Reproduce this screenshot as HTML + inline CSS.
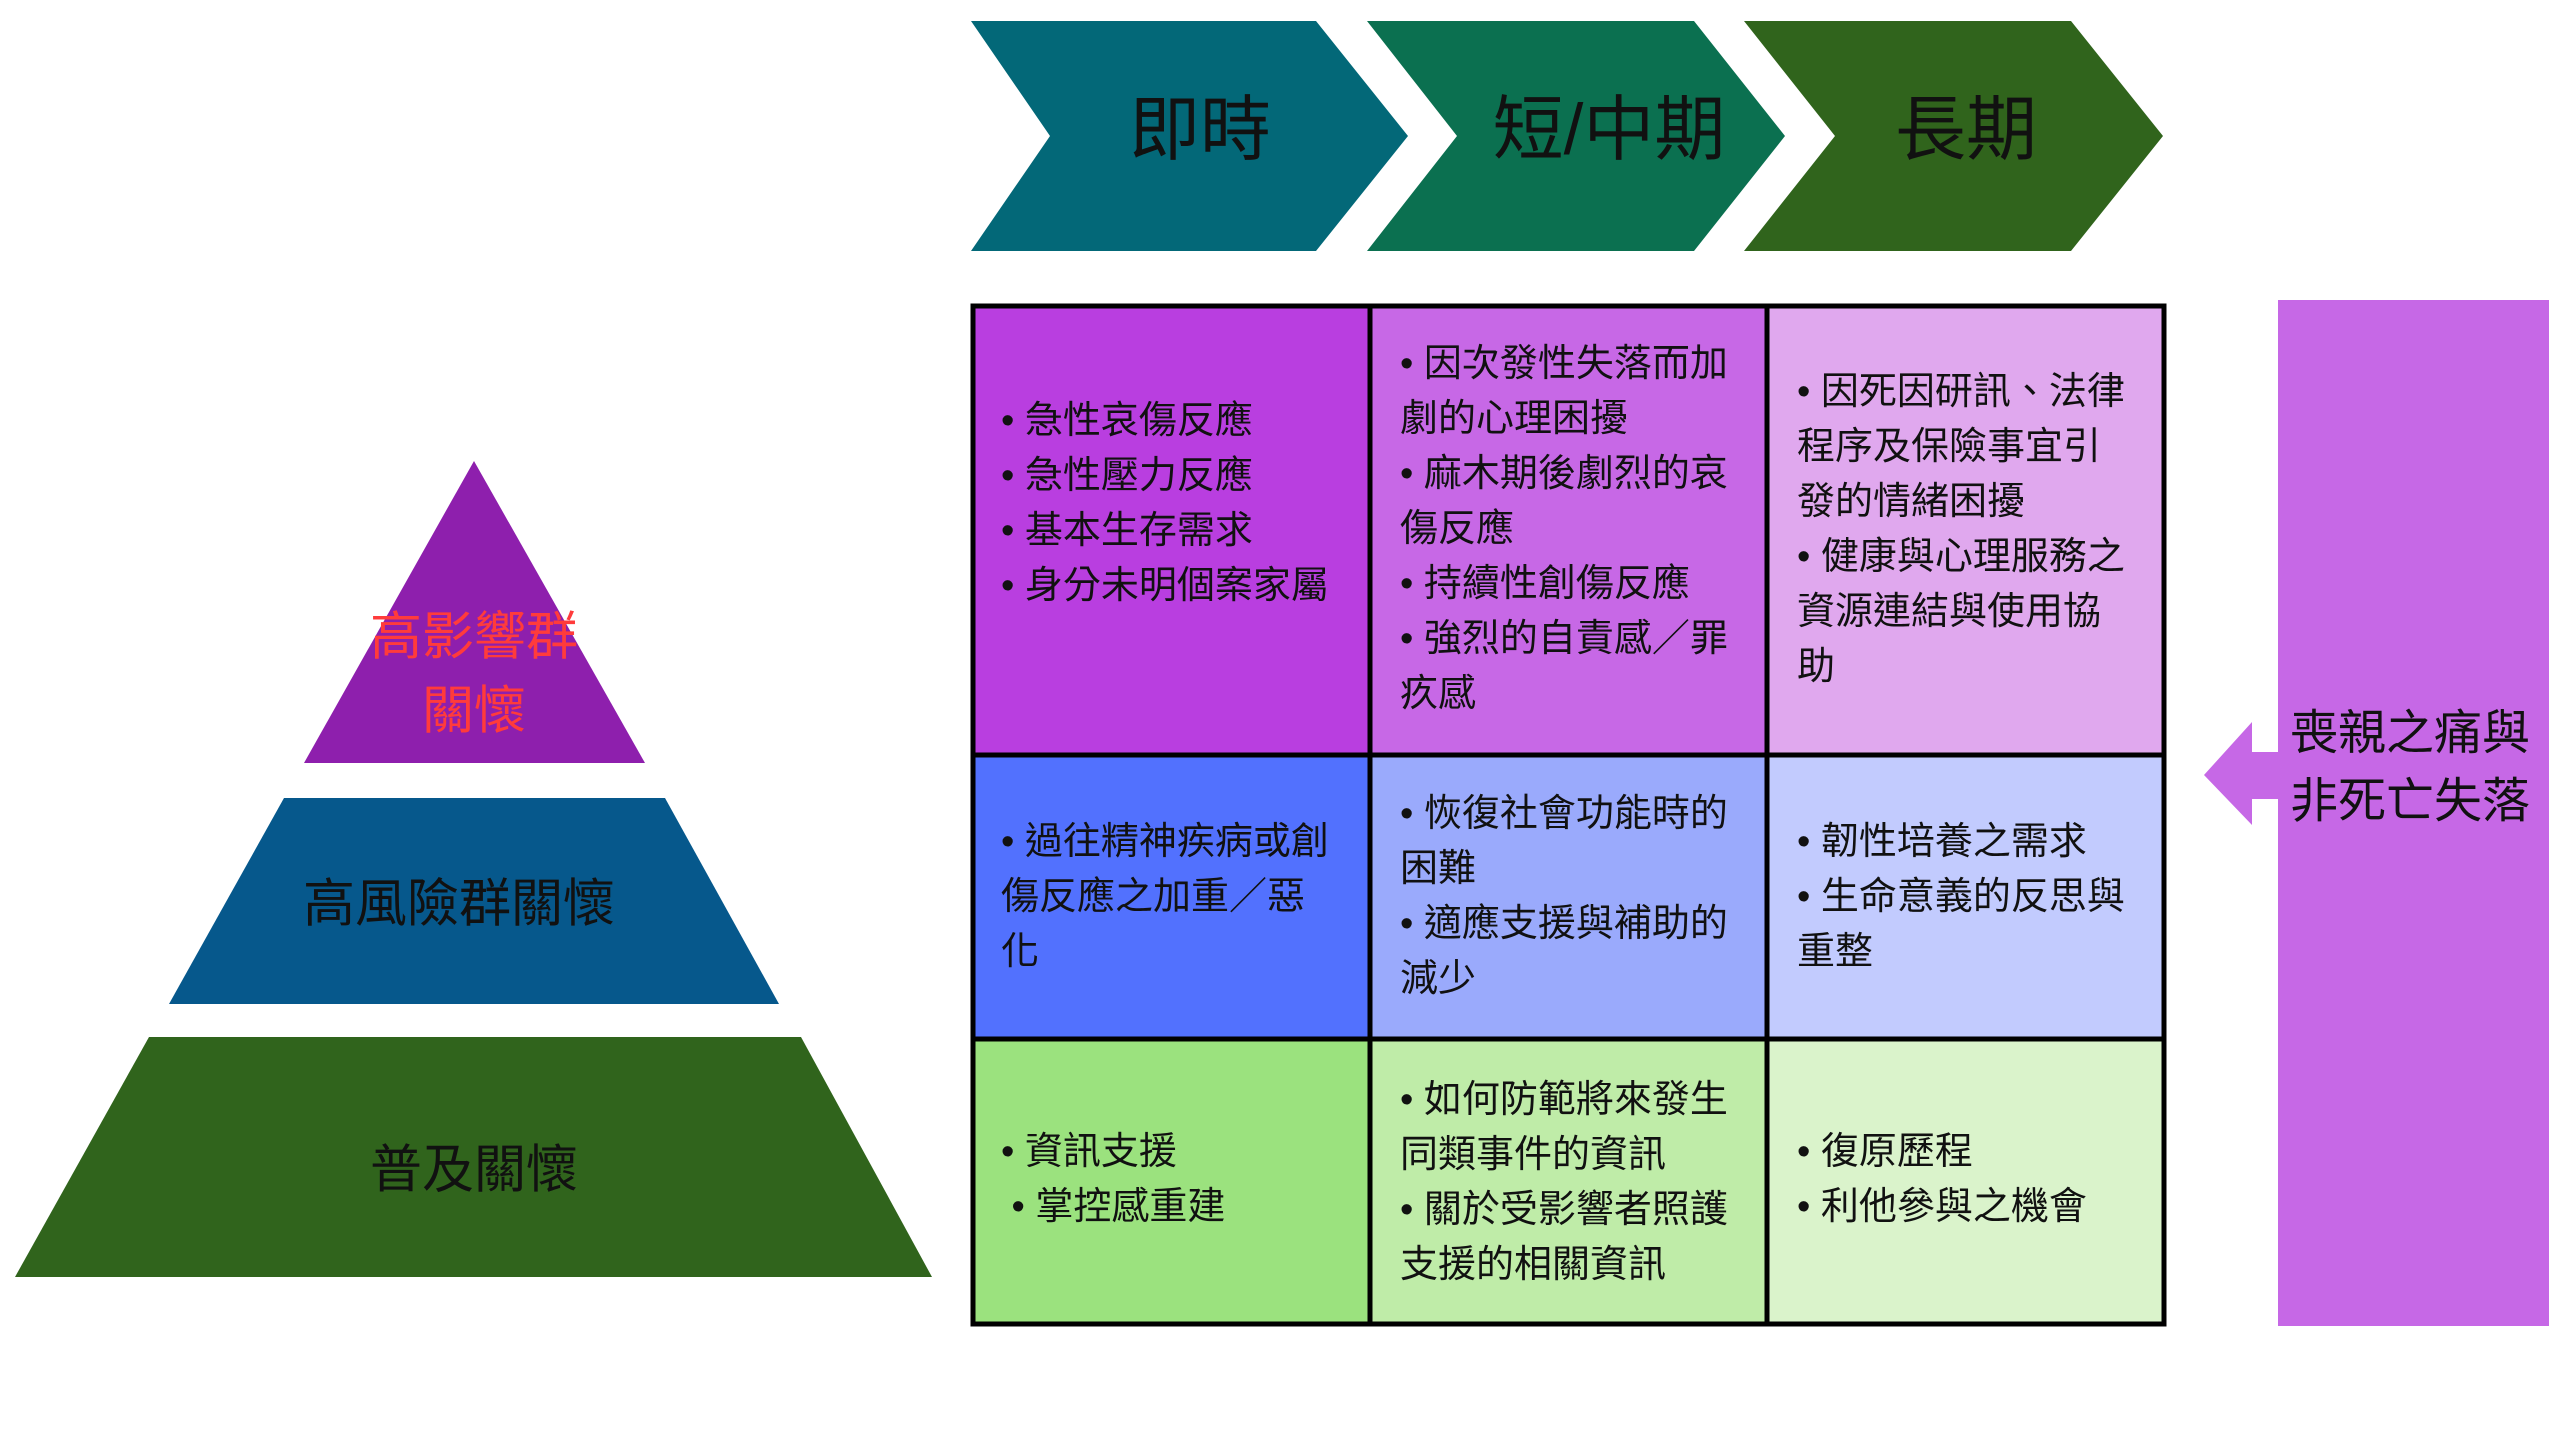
<!DOCTYPE html>
<html><head><meta charset="utf-8">
<style>
html,body{margin:0;padding:0;background:#fff;}
body{width:2560px;height:1440px;position:relative;overflow:hidden;font-family:"Liberation Sans","Noto Sans CJK TC",sans-serif;}
svg{position:absolute;left:0;top:0;}
.t{position:absolute;white-space:nowrap;transform:translate(-50%,-50%);}
.cell{position:absolute;display:flex;flex-direction:column;justify-content:center;padding-left:30px;box-sizing:border-box;font-size:38px;line-height:55px;color:#111;white-space:nowrap;}
</style></head><body>
<svg width="2560" height="1440">
  <polygon points="971,21 1316,21 1408,136 1316,251 971,251 1050,136" fill="#036878"/>
  <polygon points="1367,21 1694,21 1785,136 1694,251 1367,251 1457,136" fill="#0b7050"/>
  <polygon points="1744,21 2071,21 2163,136 2071,251 1744,251 1835,136" fill="#30641c"/>
  <polygon points="474,461 645,763 304,763" fill="#8e1fad"/>
  <polygon points="284,798 665,798 779,1004 169,1004" fill="#06588c"/>
  <polygon points="149,1037 801,1037 932,1277 15,1277" fill="#30641c"/>
  <rect x="2278" y="300" width="271" height="1026" fill="#c668e6"/>
  <polygon points="2204,775 2252,722 2252,752 2280,752 2280,799 2252,799 2252,825" fill="#c668e6"/>
  <rect x="971" y="304" width="399" height="451" fill="#b93ee0"/>
  <rect x="1370" y="304" width="397" height="451" fill="#c768e6"/>
  <rect x="1767" y="304" width="399" height="451" fill="#e0a8ee"/>
  <rect x="971" y="755" width="399" height="284" fill="#5271fe"/>
  <rect x="1370" y="755" width="397" height="284" fill="#9aaafc"/>
  <rect x="1767" y="755" width="399" height="284" fill="#c2cbfe"/>
  <rect x="971" y="1039" width="399" height="287" fill="#9be27e"/>
  <rect x="1370" y="1039" width="397" height="287" fill="#bfeca8"/>
  <rect x="1767" y="1039" width="399" height="287" fill="#daf3cb"/>
  <g stroke="#000" stroke-width="5" fill="none">
    <rect x="973" y="306" width="1191" height="1018"/>
    <line x1="1370" y1="304" x2="1370" y2="1326"/>
    <line x1="1767" y1="304" x2="1767" y2="1326"/>
    <line x1="971" y1="755" x2="2166" y2="755"/>
    <line x1="971" y1="1039" x2="2166" y2="1039"/>
  </g>
</svg>

<div class="t" style="left:1200px;top:124px;font-size:71px;color:#111;">即時</div>
<div class="t" style="left:1609px;top:124px;font-size:71px;color:#111;">短/中期</div>
<div class="t" style="left:1966px;top:124px;font-size:71px;color:#111;">長期</div>

<div class="t" style="left:474px;top:632px;font-size:52px;color:#ff3b3b;">高影響群</div>
<div class="t" style="left:474px;top:706px;font-size:52px;color:#ff3b3b;">關懷</div>
<div class="t" style="left:459px;top:899px;font-size:52px;color:#111;">高風險群關懷</div>
<div class="t" style="left:474px;top:1165px;font-size:52px;color:#111;">普及關懷</div>

<div style="position:absolute;left:2290px;top:700px;font-size:48px;line-height:68px;color:#111;white-space:nowrap;">喪親之痛與<br>非死亡失落</div>

<div class="cell" style="left:971px;top:304px;width:399px;height:451px;padding-bottom:52px;">
<div>• 急性哀傷反應</div><div>• 急性壓力反應</div><div>• 基本生存需求</div><div>• 身分未明個案家屬</div></div>
<div class="cell" style="left:1370px;top:304px;width:397px;height:451px;">
<div>• 因次發性失落而加</div><div>劇的心理困擾</div><div>• 麻木期後劇烈的哀</div><div>傷反應</div><div>• 持續性創傷反應</div><div>• 強烈的自責感／罪</div><div>疚感</div></div>
<div class="cell" style="left:1767px;top:304px;width:399px;height:451px;">
<div>• 因死因研訊、法律</div><div>程序及保險事宜引</div><div>發的情緒困擾</div><div>• 健康與心理服務之</div><div>資源連結與使用協</div><div>助</div></div>

<div class="cell" style="left:971px;top:755px;width:399px;height:284px;">
<div>• 過往精神疾病或創</div><div>傷反應之加重／惡</div><div>化</div></div>
<div class="cell" style="left:1370px;top:755px;width:397px;height:284px;">
<div>• 恢復社會功能時的</div><div>困難</div><div>• 適應支援與補助的</div><div>減少</div></div>
<div class="cell" style="left:1767px;top:755px;width:399px;height:284px;">
<div>• 韌性培養之需求</div><div>• 生命意義的反思與</div><div>重整</div></div>

<div class="cell" style="left:971px;top:1039px;width:399px;height:287px;padding-bottom:6px;">
<div>• 資訊支援</div><div>&nbsp;• 掌控感重建</div></div>
<div class="cell" style="left:1370px;top:1039px;width:397px;height:287px;">
<div>• 如何防範將來發生</div><div>同類事件的資訊</div><div>• 關於受影響者照護</div><div>支援的相關資訊</div></div>
<div class="cell" style="left:1767px;top:1039px;width:399px;height:287px;padding-bottom:6px;">
<div>• 復原歷程</div><div>• 利他參與之機會</div></div>
</body></html>
